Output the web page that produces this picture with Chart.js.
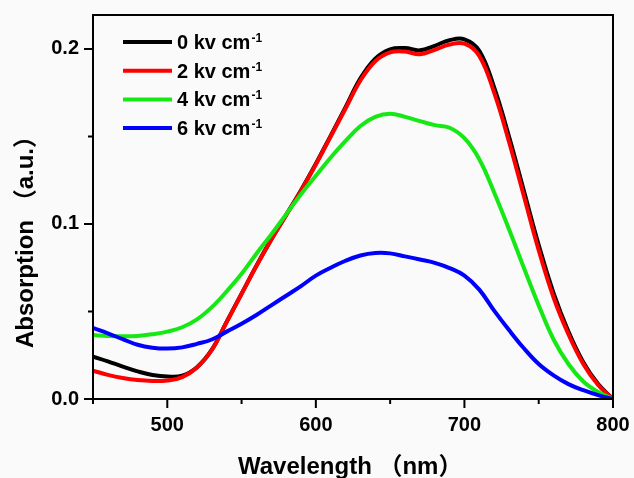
<!DOCTYPE html>
<html lang="en">
<head>
    <meta charset="UTF-8">
    <title>Absorption spectra</title>
    <style>
        html, body { margin: 0; padding: 0; background: #fafafa; overflow: hidden; }
        #wrap { width: 634px; height: 478px; position: relative; }
    </style>
    <script src="https://cdn.jsdelivr.net/npm/chart.js"></script>
</head>
<body>
<div id="wrap"><canvas id="spectra"></canvas></div>
<script>
    // wavelength grid (nm)
    const wavelengths = [450, 460, 470, 480, 490, 500, 510, 520, 530, 540, 550, 560,
        570, 580, 590, 600, 610, 620, 630, 640, 650, 660, 670, 680, 690, 700, 710, 720,
        730, 740, 750, 760, 770, 780, 790, 800];

    const field0 = [0.0242, 0.0215, 0.0185, 0.0158, 0.0137, 0.0128, 0.0133, 0.0182, 0.0282, 0.0442, 0.0602, 0.0762,
        0.0912, 0.1052, 0.1193, 0.1344, 0.1505, 0.1668, 0.1832, 0.1945, 0.1998, 0.2005, 0.1992, 0.2018, 0.2050, 0.2055, 0.1990, 0.1780,
        0.1500, 0.1190, 0.0880, 0.0605, 0.0385, 0.0210, 0.0085, 0.0];
    const field2 = [0.0162, 0.0138, 0.0120, 0.0108, 0.0103, 0.0106, 0.0125, 0.0180, 0.0280, 0.0440, 0.0600, 0.0760,
        0.0910, 0.1050, 0.1190, 0.1340, 0.1500, 0.1660, 0.1820, 0.1930, 0.1980, 0.1985, 0.1970, 0.1995, 0.2025, 0.2030, 0.1960, 0.1750,
        0.1470, 0.1160, 0.0850, 0.0580, 0.0370, 0.0200, 0.0080, 0.0];
    const field4 = [0.0365, 0.0360, 0.0358, 0.0360, 0.0370, 0.0385, 0.0410, 0.0455, 0.0525, 0.0615, 0.0715, 0.0830,
        0.0940, 0.1055, 0.1170, 0.1275, 0.1380, 0.1475, 0.1560, 0.1612, 0.1630, 0.1612, 0.1588, 0.1565, 0.1550, 0.1490, 0.1370, 0.1180,
        0.0970, 0.0750, 0.0535, 0.0340, 0.0200, 0.0100, 0.0040, 0.0];
    const field6 = [0.0406, 0.0375, 0.0342, 0.0310, 0.0293, 0.0288, 0.0295, 0.0315, 0.0340, 0.0385, 0.0430, 0.0480,
        0.0535, 0.0590, 0.0645, 0.0705, 0.0750, 0.0790, 0.0820, 0.0834, 0.0832, 0.0815, 0.0797, 0.0778, 0.0748, 0.0705, 0.0625, 0.0505,
        0.0394, 0.0290, 0.0200, 0.0135, 0.0085, 0.0050, 0.0022, 0.0];

    const fieldLabels = ["0", "2", "4", "6"];
    const fieldColors = ["#000000", "#ff0000", "#16e816", "#0000ff"];
    const fieldSeries = [field0, field2, field4, field6];

    const xTickLabels = [500, 600, 700, 800];
    const yTickLabels = [0.0, 0.1, 0.2];

    const FONT = "'Liberation Sans', Arial, 'Noto Sans CJK SC', sans-serif";

    // frame, tick marks, axis titles and legend
    const decor = {
        id: "decor",
        afterDraw(chart) {
            const ctx = chart.ctx;
            const a = chart.chartArea;
            const xs = chart.scales.x, ys = chart.scales.y;
            ctx.save();
            ctx.strokeStyle = "#000";
            ctx.lineWidth = 2;
            ctx.strokeRect(a.left, a.top, a.right - a.left, a.bottom - a.top);

            ctx.beginPath();
            for (let w = 450; w <= 800; w += 50) {
                const px = xs.getPixelForValue(w);
                const len = (w % 100 === 0) ? 9 : 5;
                ctx.moveTo(px, a.bottom);
                ctx.lineTo(px, a.bottom + len);
            }
            for (let k = 0; k <= 4; k++) {
                const py = ys.getPixelForValue(k * 0.05);
                const len = (k % 2 === 0) ? 9 : 5;
                ctx.moveTo(a.left, py);
                ctx.lineTo(a.left - len, py);
            }
            ctx.stroke();

            // axis titles
            ctx.fillStyle = "#000";
            ctx.font = "bold 24px " + FONT;
            ctx.textBaseline = "alphabetic";
            ctx.textAlign = "left";
            ctx.fillText("Wavelength （nm）", 238, 474);
            ctx.translate(33, 348);
            ctx.rotate(-Math.PI / 2);
            ctx.fillText("Absorption （a.u.）", 0, 0);
            ctx.setTransform(1, 0, 0, 1, 0, 0);

            // legend
            chart.data.datasets.forEach((ds, i) => {
                const y = 42 + i * 28.7;
                ctx.strokeStyle = ds.borderColor;
                ctx.lineWidth = 4;
                ctx.beginPath();
                ctx.moveTo(123, y);
                ctx.lineTo(172, y);
                ctx.stroke();
                ctx.fillStyle = "#000";
                ctx.font = "bold 20px " + FONT;
                const txt = fieldLabels[i] + " kv cm";
                ctx.fillText(txt, 177, y + 7);
                const w = ctx.measureText(txt).width;
                ctx.font = "bold 12px " + FONT;
                ctx.fillText("-1", 177 + w + 1, y);
            });
            ctx.restore();
        }
    };

    const ctx = document.getElementById("spectra").getContext("2d");
    new Chart(ctx, {
        type: "line",
        data: {
            datasets: fieldSeries.map((vals, i) => ({
                label: fieldLabels[i] + " kv cm-1",
                data: wavelengths.map((w, j) => ({ x: w, y: vals[j] })),
                borderColor: fieldColors[i],
                borderWidth: 4,
                pointRadius: 0,
                tension: 0.4,
                order: 4 - i
            }))
        },
        options: {
            responsive: true,
            maintainAspectRatio: false,
            animation: false,
            layout: { padding: { top: 15, right: 21, left: 0, bottom: 0 } },
            plugins: { legend: { display: false }, tooltip: { enabled: false } },
            scales: {
                x: {
                    type: "linear",
                    min: 450,
                    max: 800,
                    grid: { display: false, drawTicks: false },
                    border: { display: false },
                    afterFit: s => { s.height = 79; s.paddingLeft = 0; s.paddingRight = 0; },
                    afterBuildTicks: s => { s.ticks = xTickLabels.map(v => ({ value: v })); },
                    ticks: {
                        padding: 14,
                        color: "#000",
                        font: { family: FONT, size: 20, weight: "bold" },
                        callback: v => String(v)
                    }
                },
                y: {
                    type: "linear",
                    min: 0,
                    max: 0.2194,
                    grid: { display: false, drawTicks: false },
                    border: { display: false },
                    afterFit: s => { s.width = 93; s.paddingTop = 0; s.paddingBottom = 0; },
                    afterBuildTicks: s => { s.ticks = yTickLabels.map(v => ({ value: v })); },
                    ticks: {
                        padding: 14,
                        color: "#000",
                        font: { family: FONT, size: 20, weight: "bold" },
                        callback: v => v.toFixed(1)
                    }
                }
            }
        },
        plugins: [decor]
    });
</script>
</body>
</html>
